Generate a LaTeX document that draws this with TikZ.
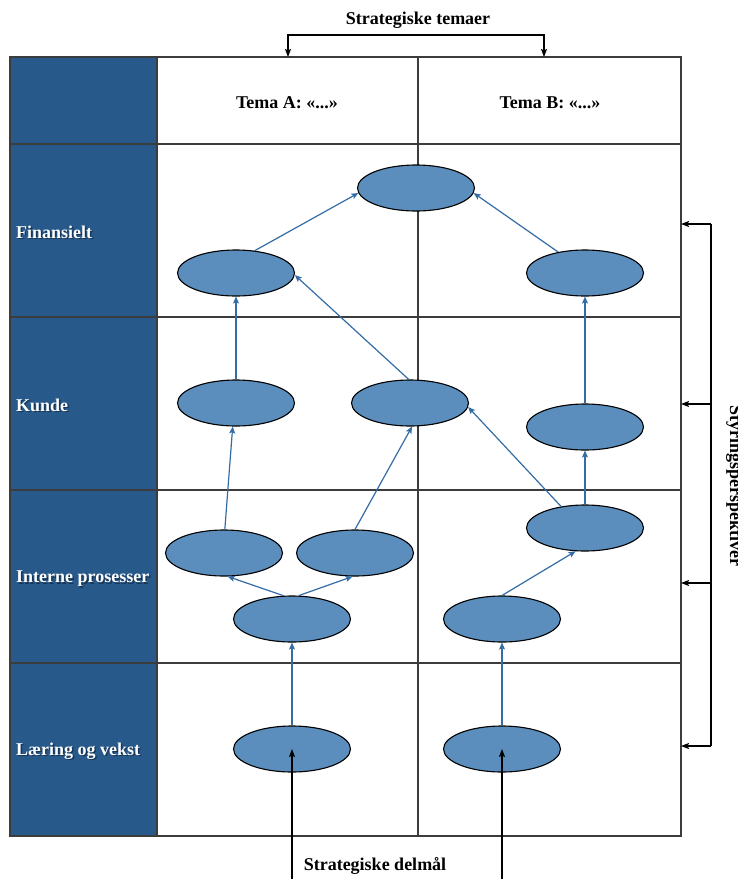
\documentclass[tikz,border=0pt]{standalone}
\usepackage{fontspec}
\setmainfont{Liberation Serif}
\usetikzlibrary{shapes.geometric,arrows.meta}
\definecolor{colblue}{RGB}{39,89,138}
\definecolor{ovalfill}{RGB}{91,142,189}
\definecolor{linkblue}{RGB}{52,108,165}
\definecolor{gridgray}{RGB}{60,60,60}
\definecolor{shade}{RGB}{10,25,45}

\begin{document}
\begin{tikzpicture}[x=1pt,y=-1pt,
  oval/.style={ellipse, draw=black, line width=1.1pt, fill=ovalfill,
    minimum width=117pt, minimum height=46pt, inner sep=0pt},
  link/.style={draw=linkblue, line width=1.2pt,
    -{Stealth[length=7pt,width=6pt,inset=1.5pt]}},
  blk/.style={draw=black, line width=1.2pt,
    -{Stealth[length=8pt,width=6pt,inset=1.5pt]}},
  bothblk/.style={draw=black, line width=1.2pt,
    {Stealth[length=8pt,width=6pt,inset=1.5pt]}-{Stealth[length=8pt,width=6pt,inset=1.5pt]}},
  gridline/.style={draw=gridgray, line width=1.3pt},
  title/.style={font=\fontsize{18}{20}\selectfont\bfseries, inner sep=0pt},
  rowlabel/.style={font=\fontsize{18}{20}\selectfont\bfseries, text=white,
    anchor=west, inner sep=0pt},
  rowshade/.style={font=\fontsize{18}{20}\selectfont\bfseries, text=shade,
    opacity=0.55, anchor=west, inner sep=0pt}
]
% canvas
\path[use as bounding box, fill=white] (0,0) rectangle (738,879);

% perspective column
\fill[colblue] (10,57) rectangle (157,836);

% table grid
\draw[gridline] (10,57) rectangle (681,836);
\draw[gridline] (157,57) -- (157,836);
\draw[gridline] (418,57) -- (418,836);
\foreach \yy in {144,317,490,663} \draw[gridline] (10,\yy) -- (681,\yy);

% column headings
\node[title] (temaA) at (287,103) {Tema A: «...»};
\node[title] (temaB) at (550,103) {Tema B: «...»};

% row labels with a soft drop shadow
\node[rowshade] (finS) at (17.5,233.5) {Finansielt};
\node[rowlabel] (fin) at (16,232) {Finansielt};
\node[rowshade] (kunS) at (17.5,406.5) {Kunde};
\node[rowlabel] (kun) at (16,405) {Kunde};
\node[rowshade] (intS) at (17.5,580.5) {Interne prosesser};
\node[rowlabel] (int) at (16,579) {Interne prosesser};
\node[rowshade] (larS) at (17.5,752.5) {Læring og vekst};
\node[rowlabel] (lar) at (16,751) {Læring og vekst};

% goals
\node[oval] (fTop) at (416,188) {};
\node[oval] (fA) at (236,273) {};
\node[oval] (fB) at (585,273) {};
\node[oval] (kA) at (236,403) {};
\node[oval] (kM) at (410,403) {};
\node[oval] (kB) at (585,427) {};
\node[oval] (pA1) at (224,553) {};
\node[oval] (pA2) at (355,553) {};
\node[oval] (pB1) at (585,528) {};
\node[oval] (pA0) at (292,619) {};
\node[oval] (pB0) at (502,619) {};
\node[oval] (lA) at (292,749) {};
\node[oval] (lB) at (502,749) {};

% cause-and-effect links
\draw[link] (fA.50) -- (fTop.185);
\draw[link] (fB.142) -- (fTop.355);
\draw[link] (kA.north) -- (fA.south);
\draw[link] (kM.93) -- (fA.358);
\draw[link] (kB.north) -- (fB.south);
\draw[link] (pA1.88) -- (kA.262);
\draw[link] (pA2.north) -- (kM.275);
\draw[link] (pB1.138) -- (kM.356);
\draw[link] (pB1.north) -- (kB.south);
\draw[link] (pA0.110) -- (pA1.279);
\draw[link] (pA0.74) -- (pA2.264);
\draw[link] (pB0.north) -- (pB1.248);
\draw[link] (lA.north) -- (pA0.south);
\draw[link] (lB.north) -- (pB0.south);

% strategic themes bracket
\node[title] (themes) at (418,20) {Strategiske temaer};
\coordinate (tA) at (288,57);
\coordinate (tB) at (544,57);
\coordinate (tBar) at (418,35);
\draw[bothblk] (tA) -- (tA |- tBar) -- (tB |- tBar) -- (tB);

% perspectives bracket
\coordinate (r1) at (711,224);
\coordinate (r2) at (711,404);
\coordinate (r3) at (711,583);
\coordinate (r4) at (711,746);
\coordinate (e1) at (681,224);
\coordinate (e2) at (681,404);
\coordinate (e3) at (681,583);
\coordinate (e4) at (681,746);
\draw[black, line width=1.2pt] (r1) -- (r4);
\draw[blk] (r1) -- (e1);
\draw[blk] (r2) -- (e2);
\draw[blk] (r3) -- (e3);
\draw[blk] (r4) -- (e4);
\node[title, anchor=base, rotate=-90] (persp) at (730,486) {Styringsperspektiver};

% strategic sub-goals
\node[title] (subgoals) at (375,866) {Strategiske delmål};
\coordinate (dA) at (292,885);
\coordinate (dB) at (502,885);
\draw[blk] (dA) -- (lA.center);
\draw[blk] (dB) -- (lB.center);
\end{tikzpicture}
\end{document}
